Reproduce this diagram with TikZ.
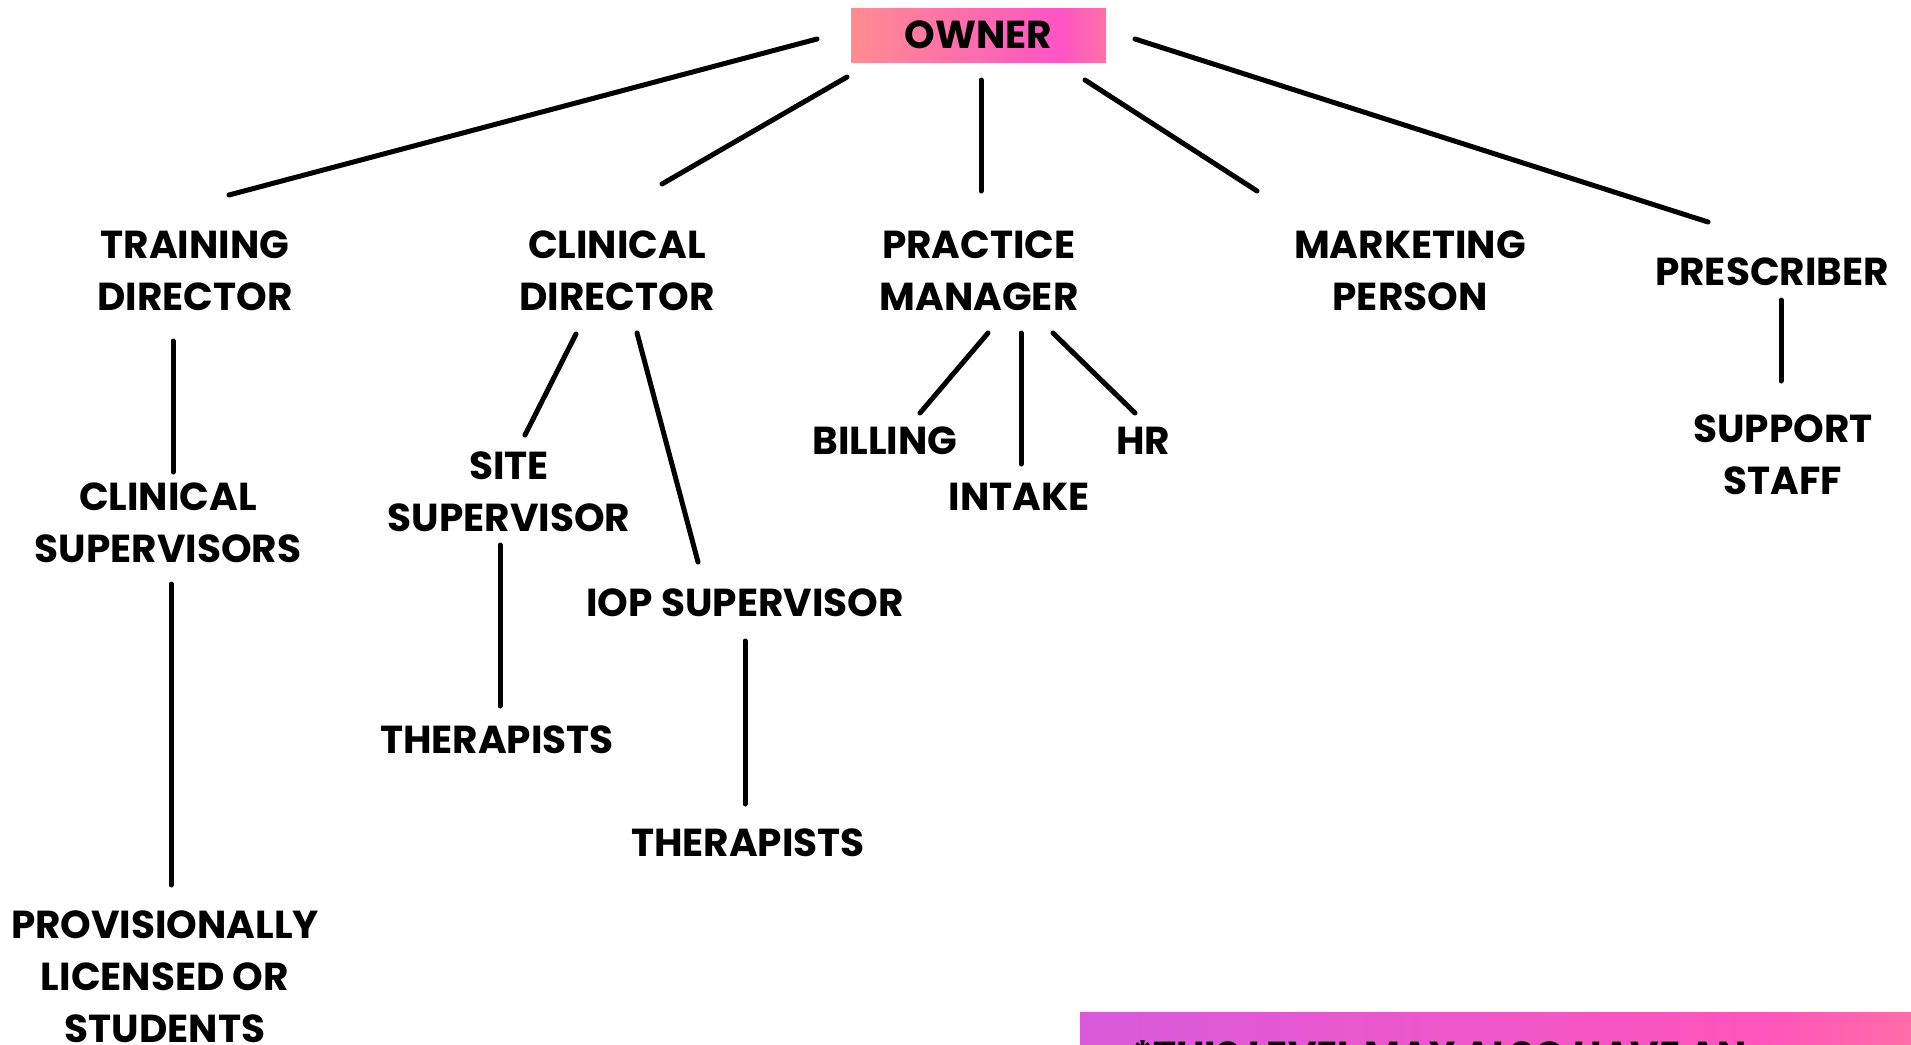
\documentclass[tikz,border=0pt]{standalone}
\usepackage{fontspec}
\setmainfont{Poppins}
\usetikzlibrary{calc}
\definecolor{ownerL}{RGB}{255,140,145}
\definecolor{ownerM}{RGB}{255,84,196}
\definecolor{ownerR}{RGB}{255,112,168}
\definecolor{noteL}{RGB}{216,90,219}
\definecolor{noteM}{RGB}{255,84,187}
\definecolor{noteR}{RGB}{255,108,168}
\pgfdeclarehorizontalshading{ownershade}{100bp}{color(0bp)=(ownerL); color(25bp)=(ownerL); color(66bp)=(ownerM); color(75bp)=(ownerR); color(100bp)=(ownerR)}
\pgfdeclarehorizontalshading{noteshade}{100bp}{color(0bp)=(noteL); color(25bp)=(noteL); color(66bp)=(noteM); color(75bp)=(noteR); color(100bp)=(noteR)}
\tikzstyle{role} = [align=center, inner sep=0pt, font=\bfseries\fontsize{39}{52}\selectfont]
\tikzstyle{top} = [rectangle, inner sep=0pt, minimum width=255pt, minimum height=54pt, shading=ownershade, font=\bfseries\fontsize{39}{44}\selectfont]
\tikzstyle{link} = [line width=5pt, line cap=round]

\begin{document}
\begin{tikzpicture}[x=1pt, y=-1pt]
\useasboundingbox (0,0) rectangle (1911,1044);

\node (owner) [top] at (978.5,35) {OWNER};

\node (training) [role] at (195,271) {TRAINING\\DIRECTOR};
\node (clinical) [role] at (617,271) {CLINICAL\\DIRECTOR};
\node (practice) [role] at (979,271) {PRACTICE\\MANAGER};
\node (marketing) [role] at (1410,271) {MARKETING\\PERSON};
\node (prescriber) [role] at (1772,272) {PRESCRIBER};

\node (clinsup) [role] at (168,523) {CLINICAL\\SUPERVISORS};
\node (provisional) [role] at (165,977) {PROVISIONALLY\\LICENSED OR\\STUDENTS};

\node (site) [role] at (509,492) {SITE\\SUPERVISOR};
\node (iop) [role] at (745,603) {IOP SUPERVISOR};
\node (sitether) [role] at (497,740) {THERAPISTS};
\node (iopther) [role] at (748,843) {THERAPISTS};

\node (billing) [role] at (885,441) {BILLING};
\node (intake) [role] at (1019,497) {INTAKE};
\node (hr) [role] at (1143,441) {HR};

\node (support) [role] at (1783,455) {SUPPORT\\STAFF};

% note box, cut off by the page edge
\shade[shading=noteshade] (1080,1012) rectangle (1911,1100);
\node (note) [role, anchor=base west] at (1132,1069) {*THIS LEVEL MAY ALSO HAVE AN};

\draw [link] ($(owner)+(-161.5,4)$) -- ($(training)+(34,-76)$);
\draw [link] ($(owner)+(-131.5,42)$) -- ($(clinical)+(45,-87)$);
\draw [link] ($(owner)+(2.5,45)$) -- ($(practice)+(2,-80)$);
\draw [link] ($(owner)+(106.5,45)$) -- ($(marketing)+(-153,-80)$);
\draw [link] ($(owner)+(156.5,4)$) -- ($(prescriber)+(-64,-50)$);

\draw [link] ($(training)+(-22,70)$) -- ($(clinsup)+(5,-51)$);
\draw [link] ($(clinsup)+(3,61)$) -- ($(provisional)+(6,-92)$);

\draw [link] ($(clinical)+(-41,63)$) -- ($(site)+(16,-57)$);
\draw [link] ($(clinical)+(20,62)$) -- ($(iop)+(-47,-41)$);
\draw [link] ($(site)+(-9,53)$) -- ($(sitether)+(3,-34)$);
\draw [link] ($(iop)+(0,38)$) -- ($(iopther)+(-3,-39)$);

\draw [link] ($(practice)+(9,62)$) -- ($(billing)+(35,-28)$);
\draw [link] ($(practice)+(42,62)$) -- ($(intake)+(2,-33)$);
\draw [link] ($(practice)+(74,62)$) -- ($(hr)+(-8,-28)$);

\draw [link] ($(prescriber)+(9,28)$) -- ($(support)+(-2,-74)$);

\end{tikzpicture}
\end{document}
